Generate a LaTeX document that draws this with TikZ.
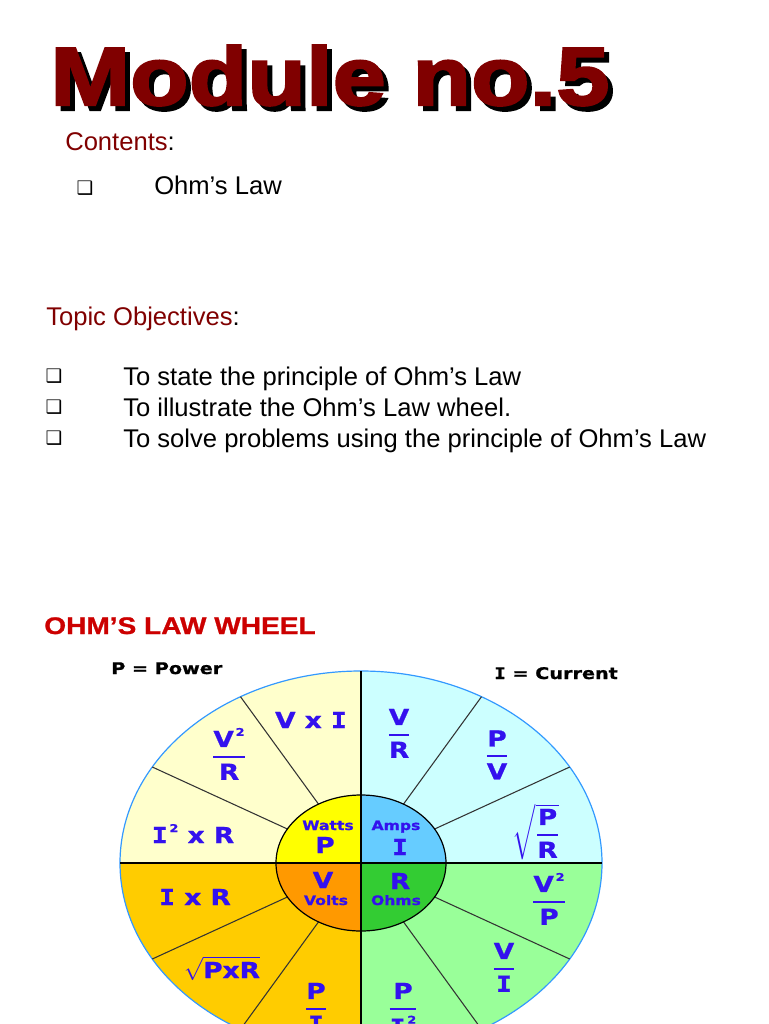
\documentclass[tikz,border=0pt]{standalone}
\usepackage{amsmath}
\usepackage{fontspec}
\setmainfont{Liberation Sans}
\newfontfamily\heavyfont{Liberation Sans}[FakeStretch=1.16,FakeBold=2.5]
\newfontfamily\headfont{Liberation Sans}[FakeStretch=1.17,FakeBold=1]
\newfontfamily\wheelfont{DejaVu Sans}[FakeStretch=1.2,FakeBold=1]
\newfontfamily\serifIfont{DejaVu Sans Mono}[FakeStretch=1.2,FakeBold=1]
\newfontfamily\dingfont{DejaVu Sans}
\newcommand\Ib{{\serifIfont\bfseries I}}
\newcommand\sq{\raisebox{0.5em}{\fontsize{8}{8}\selectfont\,2}}
\newcommand\wfrac[2]{\genfrac{}{}{1.5pt}{0}{\mbox{#1}}{\mbox{#2}}}

\definecolor{titlered}{RGB}{128,0,0}
\definecolor{headred}{RGB}{204,0,0}
\definecolor{wblue}{RGB}{51,17,238}
\definecolor{rimblue}{RGB}{51,153,255}
\definecolor{pcream}{RGB}{255,255,204}
\definecolor{icyan}{RGB}{204,255,255}
\definecolor{vgold}{RGB}{255,204,0}
\definecolor{rgreen}{RGB}{153,255,153}
\definecolor{pyellow}{RGB}{255,255,0}
\definecolor{iblue}{RGB}{102,204,255}
\definecolor{vorange}{RGB}{255,153,0}
\definecolor{rdgreen}{RGB}{51,204,51}

\tikzset{
  titletext/.style={anchor=base west, inner sep=0, font=\heavyfont\bfseries\fontsize{62}{70}\selectfont},
  bodytext/.style={anchor=base west, inner sep=0, font=\fontsize{19.2}{23}\selectfont},
  headtext/.style={anchor=base west, inner sep=0, text=headred, font=\headfont\bfseries\fontsize{18}{22}\selectfont},
  bulletmark/.style={inner sep=0, font=\dingfont\fontsize{14}{16}\selectfont},
  keytext/.style={anchor=base west, inner sep=0, font=\wheelfont\bfseries\fontsize{12}{14}\selectfont},
  lbl/.style={anchor=base, inner sep=0, text=wblue, font=\wheelfont\bfseries\fontsize{16.5}{20}\selectfont},
  small lbl/.style={lbl, font=\wheelfont\bfseries\fontsize{9.75}{12}\selectfont},
  spoke/.style={draw=black!80, line width=0.8pt}
}

\begin{document}
\begin{tikzpicture}[x=0.75pt,y=0.75pt,yscale=-1,xscale=1]
\clip (0,0) rectangle (768,1024);
\fill[white] (0,0) rectangle (768,1024);

% Title with shadow
\node[titletext, text=black] (titleshadow) at (55,110) {Module no.5};
\node[titletext, text=titlered] (title) at (50,105) {Module no.5};

% Contents
\node[bodytext] (contents) at (65,150) {\textcolor{titlered}{Contents}:};
\node[bulletmark] (bullet0) at (85,188) {❑};
\node[bodytext] (ohmslaw) at (154,194) {Ohm’s Law};

% Topic objectives
\node[bodytext] (objectives) at (46,325) {\textcolor{titlered}{Topic Objectives}:};
\foreach \y/\txt [count=\n] in {385/To state the principle of Ohm’s Law,
    416/To illustrate the Ohm’s Law wheel.,
    447/To solve problems using the principle of Ohm’s Law}{
  \node[bulletmark] (bullet\n) at (54,\y-9) {❑};
  \node[bodytext] (objective\n) at (123,\y) {\txt};
}

% Wheel heading and keys
\node[headtext] (wheelhead) at (44,634) {OHM’S LAW WHEEL};
\node[keytext] (powerkey) at (111,674) {P = Power};
\node[keytext] (currentkey) at (494,679) {\Ib{} = Current};

% Outer wheel
\coordinate (c) at (361,863);
\begin{scope}
  \clip (c) ellipse [x radius=241, y radius=192];
  \fill[pcream] (100,650) rectangle (c);
  \fill[icyan] (620,650) rectangle (c);
  \fill[vgold] (100,1080) rectangle (c);
  \fill[rgreen] (620,1080) rectangle (c);
\end{scope}
\draw[rimblue, line width=0.9pt] (c) ellipse [x radius=241, y radius=192];

% Spokes
\foreach \a in {30,60,120,150,210,240,300,330}
  \draw[spoke] ({361+85*cos(\a)},{863-68*sin(\a)}) -- ({361+241*cos(\a)},{863-192*sin(\a)});

% Inner wheel
\begin{scope}
  \clip (c) ellipse [x radius=85, y radius=68];
  \fill[pyellow] (270,790) rectangle (c);
  \fill[iblue] (450,790) rectangle (c);
  \fill[vorange] (270,940) rectangle (c);
  \fill[rdgreen] (450,940) rectangle (c);
\end{scope}
\draw[line width=0.9pt] (c) ellipse [x radius=85, y radius=68];

% Cross
\draw[line width=1.2pt] (120,863) -- (602,863);
\draw[line width=1.2pt] (361,671) -- (361,1060);

% Inner labels
\node[small lbl] (watts) at (328,830) {Watts};
\node[lbl] (pcenter) at (325,853) {P};
\node[small lbl] (amps) at (396,830) {Amps};
\node[lbl] (icenter) at (400,855) {\Ib};
\node[lbl] (vcenter) at (323,888) {V};
\node[small lbl] (volts) at (326,905) {Volts};
\node[lbl] (rcenter) at (400,889) {R};
\node[small lbl] (ohms) at (396,905) {Ohms};

% Power sector
\node[lbl] (pvi) at (311,728) {V x \Ib};
\node[lbl] (pvvr) at (229,762.5) {$\wfrac{V\sq}{R}$};
\node[lbl] (piir) at (193,843) {\Ib\sq{} x R};

% Current sector
\node[lbl] (ivr) at (399,740.5) {$\wfrac{V}{R}$};
\node[lbl] (ipv) at (497,762) {$\wfrac{P}{V}$};
\node[lbl] (ipr) at (536,840.5) {$\sqrt{\wfrac{P}{R}}$};

% Voltage sector
\node[lbl] (vir) at (195,905) {\Ib{} x R};
\node[lbl] (vpr) at (222,978) {$\sqrt{\mbox{PxR}}$};
\node[lbl] (vpi) at (316,1014.5) {$\wfrac{P}{\Ib}$};

% Resistance sector
\node[lbl] (rvp) at (549,907.5) {$\wfrac{V\sq}{P}$};
\node[lbl] (rvi) at (504,974.5) {$\wfrac{V}{\Ib}$};
\node[lbl] (rpi) at (403,1014.5) {$\wfrac{P}{\Ib\sq}$};

\end{tikzpicture}
\end{document}
